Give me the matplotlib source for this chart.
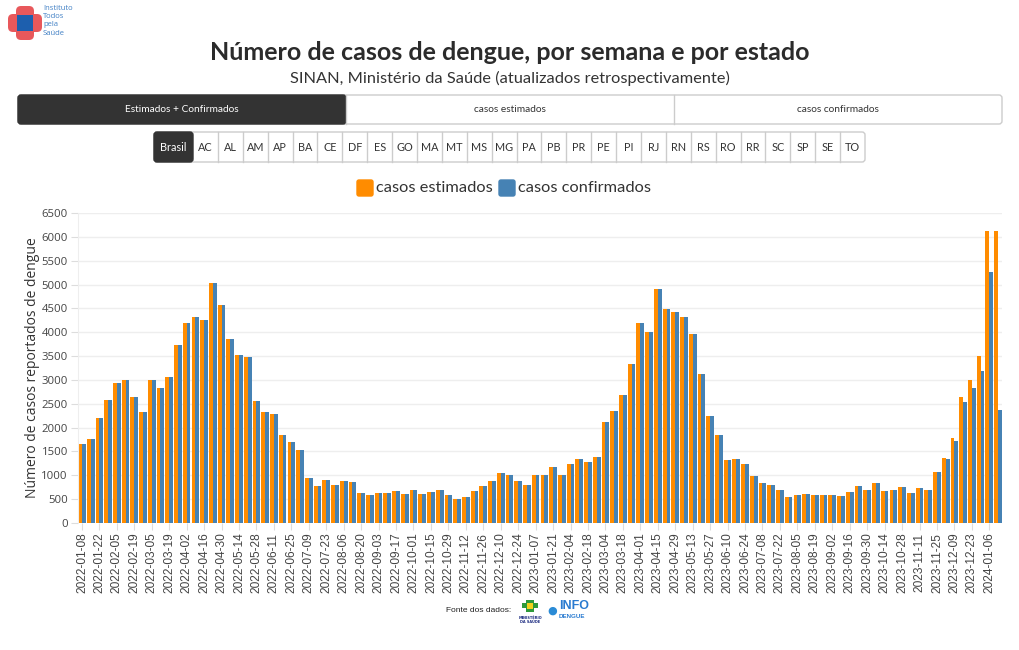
#!/usr/bin/env python3

import matplotlib
matplotlib.use('Agg')
import matplotlib.pyplot as plt
from matplotlib.patches import FancyBboxPatch, Rectangle
from matplotlib.transforms import IdentityTransform
import numpy as np
import pandas as pd


# Datos: casos de dengue por semana (Brasil)
semanas = pd.date_range('2022-01-08', periods=106, freq='7D').strftime('%Y-%m-%d').tolist()

estimados = [1657, 1768, 2195, 2587, 2943, 2992, 2649, 2328, 2992, 2824,
             3055, 3726, 4194, 4320, 4250, 5026, 4578, 3858, 3523, 3488,
             2551, 2321, 2286, 1838, 1706, 1531, 937, 776, 902, 790,
             874, 853, 622, 594, 622, 629, 664, 615, 692, 608,
             643, 692, 580, 503, 552, 678, 776, 881, 1042, 1000,
             881, 790, 1007, 1000, 1174, 1014, 1244, 1335, 1286, 1384,
             2118, 2342, 2677, 3327, 4194, 4012, 4914, 4488, 4432, 4313,
             3956, 3131, 2237, 1838, 1321, 1342, 1230, 993, 832, 804,
             692, 552, 594, 601, 580, 580, 587, 566, 643, 776,
             692, 832, 678, 699, 748, 629, 734, 692, 1069, 1370,
             1782, 2635, 2999, 3509, 6130, 6123]

confirmados = [1657, 1768, 2195, 2587, 2943, 2992, 2649, 2328, 2992, 2824,
               3055, 3726, 4194, 4320, 4250, 5026, 4578, 3858, 3523, 3488,
               2551, 2321, 2286, 1838, 1706, 1531, 937, 776, 902, 790,
               874, 853, 622, 594, 622, 629, 664, 615, 692, 608,
               643, 692, 580, 503, 552, 678, 776, 881, 1042, 1000,
               881, 790, 1007, 1000, 1174, 1014, 1244, 1335, 1286, 1384,
               2118, 2342, 2677, 3327, 4194, 4012, 4914, 4488, 4432, 4313,
               3956, 3131, 2237, 1838, 1321, 1342, 1230, 993, 832, 804,
               692, 545, 594, 601, 580, 580, 587, 566, 643, 776,
               692, 832, 678, 699, 748, 629, 734, 692, 1062, 1342,
               1720, 2537, 2831, 3180, 5270, 2370]

botones = ['Estimados + Confirmados', 'casos estimados', 'casos confirmados']
estados = ['Brasil', 'AC', 'AL', 'AM', 'AP', 'BA', 'CE', 'DF', 'ES', 'GO', 'MA', 'MT',
           'MS', 'MG', 'PA', 'PB', 'PR', 'PE', 'PI', 'RJ', 'RN', 'RS', 'RO', 'RR',
           'SC', 'SP', 'SE', 'TO']

NARANJA = '#ff8c00'
AZUL = '#4682b4'
W, H = 1020, 650

fig = plt.figure(figsize=(W / 100, H / 100), dpi=100)
ident = IdentityTransform()


def fx(x):
    return x / W


def fy(y):
    return 1 - y / H


def caja(x0, y0, x1, y1, fc, ec, r=3):
    # caja en pixeles (origen arriba a la izquierda)
    p = FancyBboxPatch((x0, H - y1), x1 - x0, y1 - y0,
                       boxstyle='round,pad=0,rounding_size=%d' % r,
                       transform=ident, fc=fc, ec=ec, lw=1)
    fig.patches.append(p)


# Logo
fig.patches.append(FancyBboxPatch((8, H - 32), 34, 18, boxstyle='round,pad=0,rounding_size=5',
                                  transform=ident, fc='#e8585b', ec='none'))
fig.patches.append(FancyBboxPatch((16, H - 40), 18, 34, boxstyle='round,pad=0,rounding_size=5',
                                  transform=ident, fc='#e8585b', ec='none'))
fig.patches.append(Rectangle((17, H - 31), 16, 16, transform=ident, fc='#1d5fae', ec='none'))
for i, t in enumerate(['Instituto', 'Todos', 'pela', 'Saúde']):
    fig.text(fx(43), fy(8 + i * 8.5), t, fontsize=5.5, color='#3f7fc4',
             family='Open Sans', va='center', ha='left')

# Títulos
fig.text(0.5, fy(53), 'Número de casos de dengue, por semana e por estado',
         ha='center', va='center', fontsize=18, fontweight='bold', color='#2b2b2b', family='Lato')
fig.text(0.5, fy(78), 'SINAN, Ministério da Saúde (atualizados retrospectivamente)',
         ha='center', va='center', fontsize=11.8, color='#333333', family='Lato')

# Botones superiores
bx = [18, 346, 674, 1002]
caja(18, 95, 1002, 124, 'white', '#cccccc')
for i, t in enumerate(botones):
    if i == 0:
        caja(bx[0], 95, bx[1], 124, '#333333', '#333333')
        col = 'white'
    else:
        fig.lines.append(plt.Line2D([bx[i], bx[i]], [H - 95, H - 124], transform=ident,
                                    color='#cccccc', lw=1))
        col = '#333333'
    fig.text(fx((bx[i] + bx[i + 1]) / 2), fy(109.5), t, ha='center', va='center',
             fontsize=7.3, color=col, family='Lato')

# Botones de estados
ex0, ex1 = 154, 865
ew0 = 39
ew = (ex1 - ex0 - ew0) / (len(estados) - 1)
caja(ex0, 132, ex1, 162, 'white', '#cccccc')
for i, t in enumerate(estados):
    if i == 0:
        a, b = ex0, ex0 + ew0
        caja(a, 132, b, 162, '#333333', '#333333')
        col = 'white'
    else:
        a = ex0 + ew0 + (i - 1) * ew
        b = a + ew
        if i > 1:
            fig.lines.append(plt.Line2D([a, a], [H - 132, H - 162], transform=ident,
                                        color='#cccccc', lw=1))
        col = '#333333'
    fig.text(fx((a + b) / 2), fy(147.5), t, ha='center', va='center',
             fontsize=7.8, color=col, family='Lato')

# Leyenda
caja(357, 180, 373, 196, NARANJA, NARANJA, r=2)
fig.text(fx(376), fy(188.5), 'casos estimados', ha='left', va='center', fontsize=11.8,
         color='#333333', family='Lato')
caja(499, 180, 515, 196, AZUL, AZUL, r=2)
fig.text(fx(518), fy(188.5), 'casos confirmados', ha='left', va='center', fontsize=11.8,
         color='#333333', family='Lato')

# Gráfico de barras
ax = fig.add_axes([fx(77.6), fy(523), fx(1002.4) - fx(77.6), fy(213) - fy(523)])
x = np.arange(len(semanas))
bw = 0.44
ax.bar(x - bw / 2, estimados, width=bw, color=NARANJA, zorder=2)
ax.bar(x + bw / 2, confirmados, width=bw, color=AZUL, zorder=2)
ax.set_xlim(-0.5, len(semanas) - 0.5)
ax.set_ylim(0, 6500)
ax.set_yticks(np.arange(0, 6501, 500))
ax.set_yticklabels([str(v) for v in range(0, 6501, 500)], family='Open Sans', fontsize=8.2,
                   color='#444444')
ax.set_xticks(x[::2])
ax.set_xticklabels(semanas[::2], rotation=90, family='Liberation Sans', fontsize=8.6,
                   color='#444444')
ax.tick_params(axis='both', length=5, color='#dddddd', pad=2)
ax.grid(axis='y', color='#eeeeee', lw=1, zorder=0)
for s in ['top', 'right', 'bottom']:
    ax.spines[s].set_visible(False)
ax.spines['left'].set_color('#eeeeee')
ax.set_ylabel('Número de casos reportados de dengue', family='Open Sans', fontsize=10,
              color='#333333', labelpad=1)

# Fuente
fig.text(fx(511), fy(610), 'Fonte dos dados:', ha='right', va='center', fontsize=6,
         color='#222222', family='Liberation Sans')
fig.patches.append(Rectangle((526, H - 612), 8, 12, transform=ident, fc='#2e9a3a', ec='none'))
fig.patches.append(Rectangle((522, H - 608), 16, 5, transform=ident, fc='#2e9a3a', ec='none'))
fig.patches.append(Rectangle((527, H - 609), 6, 6, transform=ident, fc='#f2d21b', ec='none'))
fig.text(fx(530), fy(620), 'MINISTÉRIO\nDA SAÚDE', ha='center', va='center', fontsize=2.5,
         color='#1b2a80', fontweight='bold', linespacing=1.2)
fig.text(fx(552), fy(611), '●', ha='center', va='center', fontsize=8, color='#2a8bd6')
fig.text(fx(559), fy(606), 'INFO', ha='left', va='center', fontsize=9, color='#2a7bd0',
         fontweight='bold', family='Liberation Sans')
fig.text(fx(559), fy(616), 'DENGUE', ha='left', va='center', fontsize=4.5, color='#2a7bd0',
         fontweight='bold', family='Liberation Sans')

plt.savefig('out.png', dpi=100)
